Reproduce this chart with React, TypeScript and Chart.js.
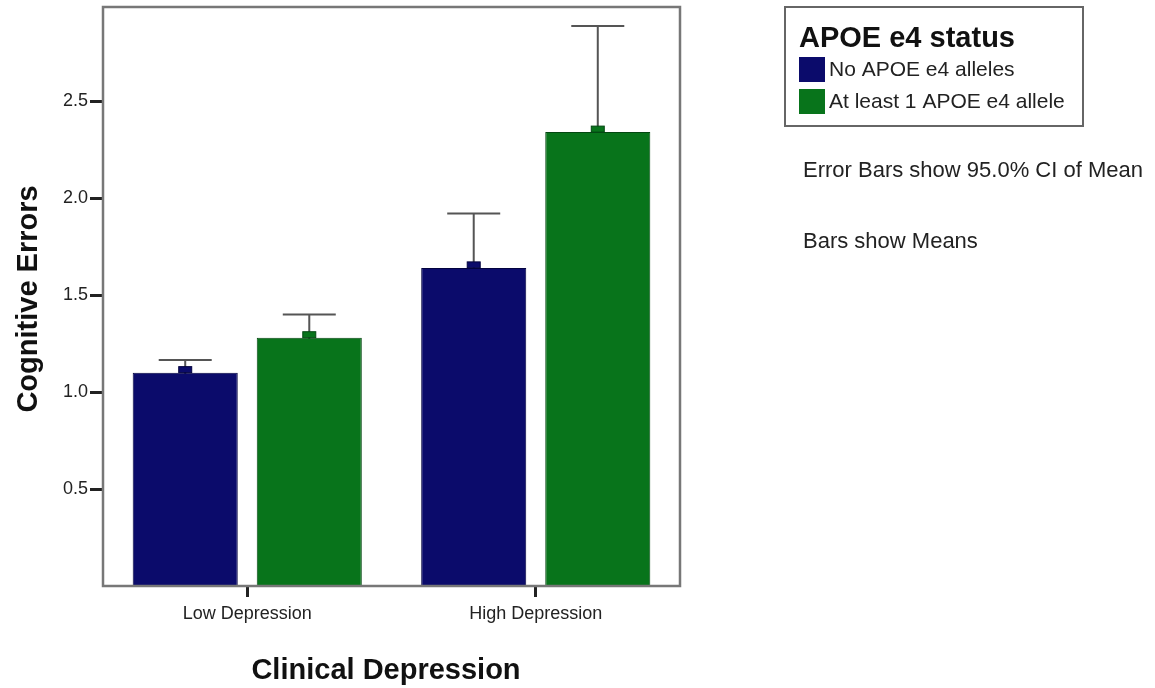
import React, { useEffect, useRef } from "react";
import { Chart, registerables } from "chart.js";

Chart.register(...registerables);

const categories = ["Low Depression", "High Depression"];
const seriesLabels = ["No APOE e4 alleles", "At least 1 APOE e4 allele"];
const noApoeMeans = [1.1, 1.64];
const apoeMeans = [1.28, 2.34];
const noApoeUpper = [1.165, 1.92];
const apoeUpper = [1.4, 2.887];
const noApoeLower = [1.035, 1.36];
const apoeLower = [1.16, 1.79];
const yTickValues = [0.5, 1.0, 1.5, 2.0, 2.5];
const legendTitle = "APOE e4 status";
const noteLines = ["Error Bars show 95.0% CI of Mean", "Bars show Means"];
const xTitle = "Clinical Depression";
const yTitle = "Cognitive Errors";

const FONT = "'Liberation Sans', Arial, sans-serif";
const BLUE = "#0b0b6b";
const GREEN = "#08741b";

export default function App() {
  const ref = useRef<HTMLCanvasElement | null>(null);

  useEffect(() => {
    if (!ref.current) return;
    const uppers = [noApoeUpper, apoeUpper];
    const lowers = [noApoeLower, apoeLower];
    const means = [noApoeMeans, apoeMeans];

    const errorBehind = {
      id: "errorBehind",
      beforeDatasetsDraw(chart: any) {
        const ctx = chart.ctx;
        const ys = chart.scales.y;
        ctx.save();
        ctx.strokeStyle = "#555555";
        ctx.lineWidth = 2;
        chart.data.datasets.forEach((_: any, i: number) => {
          const meta = chart.getDatasetMeta(i);
          meta.data.forEach((el: any, j: number) => {
            const x = el.x;
            const yU = ys.getPixelForValue(uppers[i][j]);
            const yL = ys.getPixelForValue(lowers[i][j]);
            ctx.beginPath();
            ctx.moveTo(x, yL);
            ctx.lineTo(x, yU);
            ctx.moveTo(x - 26.5, yU);
            ctx.lineTo(x + 26.5, yU);
            ctx.moveTo(x - 26.5, yL);
            ctx.lineTo(x + 26.5, yL);
            ctx.stroke();
          });
        });
        ctx.restore();
      },
    };

    const overlay = {
      id: "overlay",
      afterDatasetsDraw(chart: any) {
        const ctx = chart.ctx;
        const ys = chart.scales.y;
        ctx.save();
        chart.data.datasets.forEach((ds: any, i: number) => {
          const meta = chart.getDatasetMeta(i);
          meta.data.forEach((el: any, j: number) => {
            const y = ys.getPixelForValue(means[i][j]);
            ctx.fillStyle = ds.backgroundColor;
            ctx.strokeStyle = ds.borderColor;
            ctx.lineWidth = 1;
            ctx.fillRect(el.x - 6.5, y - 6, 13, 6);
            ctx.strokeRect(el.x - 6.5, y - 6, 13, 6);
          });
        });
        const a = chart.chartArea;
        ctx.strokeStyle = "#777777";
        ctx.lineWidth = 2.5;
        ctx.strokeRect(a.left, a.top, a.right - a.left, a.bottom - a.top);
        ctx.restore();
      },
      afterDraw(chart: any) {
        const ctx = chart.ctx;
        ctx.save();
        ctx.fillStyle = "#111111";
        ctx.font = `bold 29px ${FONT}`;
        ctx.textAlign = "center";
        ctx.textBaseline = "alphabetic";
        ctx.fillText(xTitle, 386, 679);
        ctx.save();
        ctx.translate(37, 299);
        ctx.rotate(-Math.PI / 2);
        ctx.fillText(yTitle, 0, 0);
        ctx.restore();
        ctx.strokeStyle = "#666666";
        ctx.lineWidth = 2;
        ctx.strokeRect(785, 7, 298, 119);
        ctx.textAlign = "left";
        ctx.font = `bold 29px ${FONT}`;
        ctx.fillText(legendTitle, 799, 47);
        ctx.font = `21px ${FONT}`;
        chart.data.datasets.forEach((ds: any, i: number) => {
          const top = 57 + i * 32;
          ctx.fillStyle = ds.backgroundColor;
          ctx.fillRect(799, top, 26, 25);
          ctx.fillStyle = "#222222";
          ctx.textBaseline = "middle";
          ctx.fillText(ds.label, 829, top + 13);
        });
        ctx.textBaseline = "alphabetic";
        ctx.font = `22px ${FONT}`;
        ctx.fillStyle = "#222222";
        ctx.fillText(noteLines[0], 803, 177);
        ctx.fillText(noteLines[1], 803, 248);
        ctx.restore();
      },
    };

    const chart = new Chart(ref.current, {
      type: "bar",
      data: {
        labels: categories,
        datasets: [
          {
            label: seriesLabels[0],
            data: noApoeMeans,
            backgroundColor: BLUE,
            borderColor: "#03033f",
            borderWidth: 1,
            categoryPercentage: 0.86,
            barPercentage: 0.847,
          },
          {
            label: seriesLabels[1],
            data: apoeMeans,
            backgroundColor: GREEN,
            borderColor: "#044712",
            borderWidth: 1,
            categoryPercentage: 0.86,
            barPercentage: 0.847,
          },
        ],
      },
      options: {
        responsive: false,
        animation: false,
        layout: { padding: { left: 0, top: 7, right: 475, bottom: 0 } },
        plugins: { legend: { display: false }, tooltip: { enabled: false } },
        scales: {
          x: {
            type: "category",
            offset: true,
            border: { display: false },
            grid: {
              display: true,
              drawOnChartArea: false,
              offset: false,
              tickLength: 11,
              tickWidth: 3,
              tickColor: "#222222",
            },
            ticks: {
              color: "#222222",
              font: { family: FONT, size: 18 },
              padding: 6,
            },
            afterFit(scale: any) {
              scale.height = 102;
              scale.paddingLeft = 0;
              scale.paddingRight = 0;
            },
          },
          y: {
            min: 0,
            max: 2.985,
            border: { display: false },
            grid: {
              display: true,
              drawOnChartArea: false,
              tickLength: 13,
              tickWidth: 3,
              tickColor: "#222222",
            },
            ticks: {
              color: "#222222",
              font: { family: FONT, size: 18 },
              padding: 2,
              callback: (v: any) => Number(v).toFixed(1),
            },
            afterBuildTicks(scale: any) {
              scale.ticks = yTickValues.map((v) => ({ value: v }));
            },
            afterFit(scale: any) {
              scale.width = 103;
              scale.paddingTop = 0;
              scale.paddingBottom = 0;
            },
          },
        },
      },
      plugins: [errorBehind, overlay],
    });
    return () => chart.destroy();
  }, []);

  return (
    <div style={{ position: "absolute", left: 0, top: 0, width: 1155, height: 688, background: "#ffffff" }}>
      <canvas ref={ref} width={1155} height={688} style={{ width: 1155, height: 688, display: "block" }} />
    </div>
  );
}
